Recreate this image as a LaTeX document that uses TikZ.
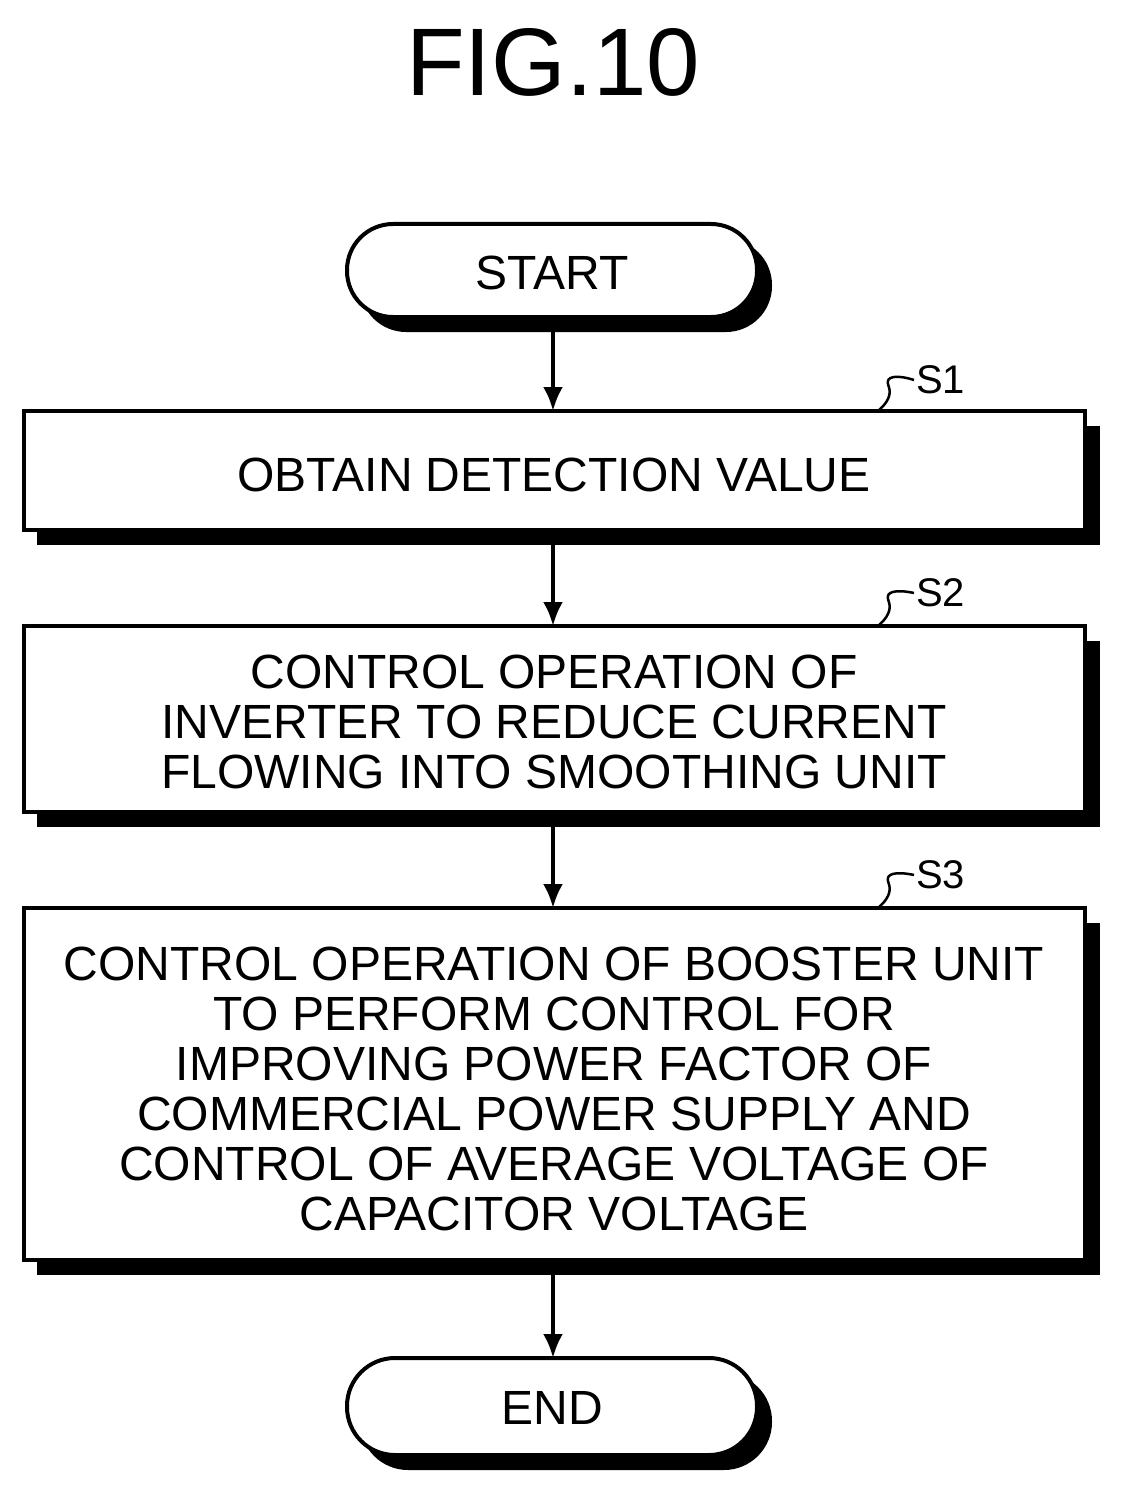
\documentclass[tikz,border=0pt]{standalone}
\usepackage{fontspec}
\setmainfont{Liberation Sans}
\usetikzlibrary{arrows.meta}
\begin{document}
\begin{tikzpicture}[x=1pt,y=-1pt,
  base/.style={draw,line width=4pt,fill=white},
  txt/.style={font=\fontsize{48}{50}\selectfont,align=center,inner sep=0pt},
  sh/.style={fill=black},
  arr/.style={line width=4pt,-{Latex[length=24pt,width=20pt]}},
  lead/.style={line width=2.5pt},
  lab/.style={font=\fontsize{40}{40}\selectfont,anchor=west,inner sep=2pt}]
\useasboundingbox (0,0) rectangle (1120,1487);
\node[font=\fontsize{96}{96}\selectfont] (fig) at (553,62) {FIG.10};
% shadows
\fill[sh,rounded corners=46pt] (360,239) rectangle (772,332);
\fill[sh] (37,426) rectangle (1100,545);
\fill[sh] (37,641) rectangle (1100,827);
\fill[sh] (37,923) rectangle (1100,1275);
\fill[sh,rounded corners=48pt] (360,1373) rectangle (772,1470);
% shapes
\draw[base,rounded corners=46pt] (347,224) rectangle (757,317);
\node[txt] (start) at (552,273) {START};
\draw[base] (24,411) rectangle (1085,530);
\node[txt] (s1) at (554,475) {OBTAIN DETECTION VALUE};
\draw[base] (24,626) rectangle (1085,812);
\node[txt] (s2) at (554,722) {CONTROL OPERATION OF\\INVERTER TO REDUCE CURRENT\\FLOWING INTO SMOOTHING UNIT};
\draw[base] (24,908) rectangle (1085,1260);
\node[txt] (s3) at (554,1089) {CONTROL OPERATION OF BOOSTER UNIT\\TO PERFORM CONTROL FOR\\IMPROVING POWER FACTOR OF\\COMMERCIAL POWER SUPPLY AND\\CONTROL OF AVERAGE VOLTAGE OF\\CAPACITOR VOLTAGE};
\draw[base,rounded corners=48pt] (347,1358) rectangle (757,1455);
\node[txt] (end) at (552,1408) {END};
% arrows
\coordinate (a0) at (553,317); \coordinate (a1) at (553,411);
\coordinate (b0) at (553,530); \coordinate (b1) at (553,626);
\coordinate (c0) at (553,812); \coordinate (c1) at (553,908);
\coordinate (d0) at (553,1260); \coordinate (d1) at (553,1358);
\draw[arr] (a0) -- (a1);
\draw[arr] (b0) -- (b1);
\draw[arr] (c0) -- (c1);
\draw[arr] (d0) -- (d1);
% labels
\node[lab] (l1) at (914,380) {S1};
\node[lab] (l2) at (914,593) {S2};
\node[lab] (l3) at (914,875) {S3};
\draw[lead] (878,411) .. controls (893,398) and (890,390) .. (888,384) .. controls (886,377) and (895,374) .. (l1.west);
\draw[lead] (878,626) .. controls (893,613) and (890,605) .. (888,599) .. controls (886,592) and (895,589) .. (l2.west);
\draw[lead] (878,908) .. controls (893,895) and (890,887) .. (888,881) .. controls (886,874) and (895,871) .. (l3.west);
\end{tikzpicture}
\end{document}
